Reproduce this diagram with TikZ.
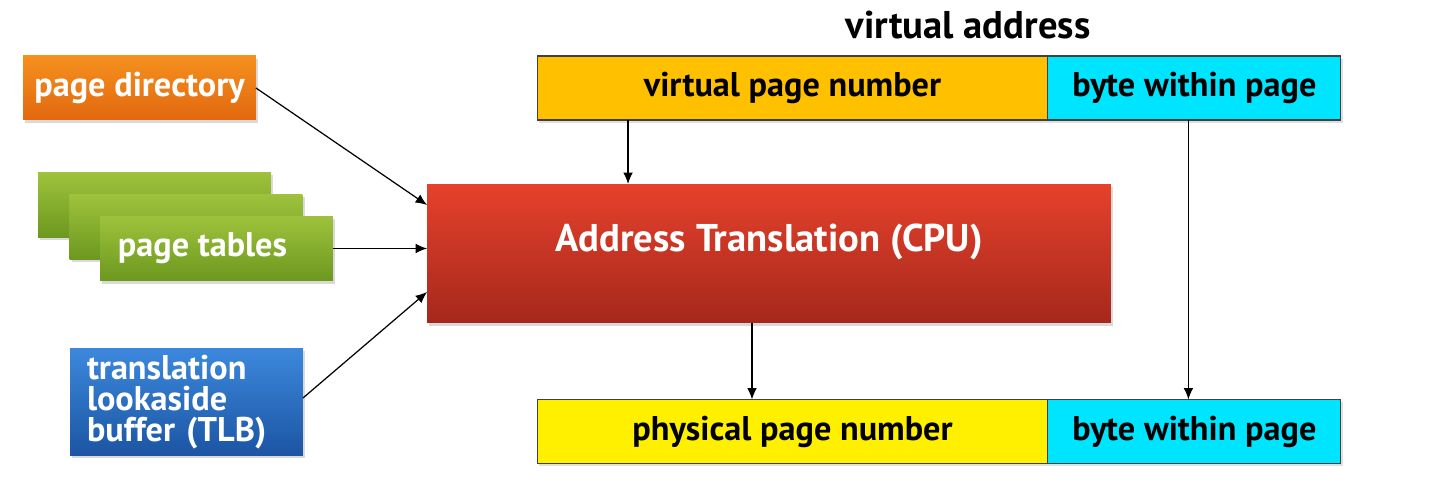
\documentclass[tikz,border=0pt]{standalone}
\usepackage{fontspec}
\setmainfont{PT Sans}
\usepackage{tikz}
\usetikzlibrary{arrows.meta,positioning,calc,shadows}
\definecolor{pdtop}{HTML}{F5901E}
\definecolor{pdbot}{HTML}{E2680F}
\definecolor{pttop}{HTML}{9EC23C}
\definecolor{ptbot}{HTML}{6C981F}
\definecolor{tlbtop}{HTML}{3C88DC}
\definecolor{tlbbot}{HTML}{1C55A4}
\definecolor{attop}{HTML}{E6412B}
\definecolor{atbot}{HTML}{A5281C}
\definecolor{vpnfill}{HTML}{FFC000}
\definecolor{ppnfill}{HTML}{FFF000}
\definecolor{bytefill}{HTML}{00E5FF}

\begin{document}
\begin{tikzpicture}[x=0.02cm,y=-0.02cm,>={Latex[length=6.5pt,width=5.5pt]},node distance=0pt]
\tikzset{
 card/.style={inner sep=0pt,outer sep=0pt,text=white,font=\bfseries\fontsize{19.5}{23}\selectfont,
   drop shadow={opacity=0.3,shadow xshift=1.2pt,shadow yshift=-1.5pt}},
 pdbox/.style={card,top color=pdtop,bottom color=pdbot,minimum width=4.66cm,minimum height=1.28cm},
 ptbox/.style={card,top color=pttop,bottom color=ptbot,minimum width=4.66cm,minimum height=1.3cm},
 tlbbox/.style={card,top color=tlbtop,bottom color=tlbbot,text width=3.98cm,inner xsep=0.34cm,
   minimum height=2.14cm,align=left,font=\bfseries\fontsize{19.5}{17.8}\selectfont},
 atbox/.style={card,top color=attop,bottom color=atbot,minimum width=13.68cm,minimum height=2.78cm,
   font=\bfseries\fontsize{22}{26}\selectfont},
 field/.style={draw=black!75,line width=0.6pt,inner sep=0pt,outer sep=0pt,minimum height=1.28cm,
   font=\bfseries\fontsize{19.5}{23}\selectfont,drop shadow={opacity=0.25,shadow xshift=1.2pt,shadow yshift=-1.5pt}},
 arrow/.style={->,line width=0.7pt}
}
\useasboundingbox (0,0) rectangle (1430,502);

% title
\node[font=\bfseries\fontsize{22}{26}\selectfont] (title) at (968,25) {virtual address};

% virtual address fields
\node[field,fill=vpnfill,minimum width=10.22cm] (vpn) at (792.5,88) {virtual page number};
\node[field,fill=bytefill,minimum width=5.86cm,right=of vpn] (vbyte) {byte within page};

% left side sources
\node[pdbox] (pd) at (139.5,88) {page directory};
\node[ptbox] (pt1) at (154.5,205) {};
\node[ptbox] (pt2) at (186,227) {};
\node[ptbox] (pt3) at (216.5,248.5) {\hspace*{-0.56cm}page tables};
\node[tlbbox] (tlb) at (186.5,402) {translation\\lookaside\\buffer (TLB)};

% translation unit
\node[atbox] (at) at (769,253.5) {\raisebox{0.62cm}{Address Translation (CPU)}};

% physical address fields
\node[field,fill=ppnfill,minimum width=10.22cm] (ppn) at (792.5,431.5) {physical page number};
\node[field,fill=bytefill,minimum width=5.86cm,right=of ppn] (pbyte) {byte within page};

% connectors
\coordinate (pdin) at ($(at.north west)+(0,21)$);
\coordinate (tlbin) at ($(at.south west)+(0,-31)$);
\coordinate (tlbout) at ($(tlb.east)+(0,-4)$);
\coordinate (vpnout) at ($(vpn.south west)+(91,0)$);
\coordinate (atout) at ($(at.south)+(-17,0)$);
\coordinate (byteout) at ($(vbyte.south)+(-6,0)$);
\draw[arrow] (pd.east) -- (pdin);
\draw[arrow] (pt3.east) -- (pt3.east -| at.west);
\draw[arrow] (tlbout) -- (tlbin);
\draw[arrow] (vpnout) -- (vpnout |- at.north);
\draw[arrow] (atout) -- (atout |- ppn.north);
\draw[arrow] (byteout) -- (byteout |- pbyte.north);
\end{tikzpicture}
\end{document}
